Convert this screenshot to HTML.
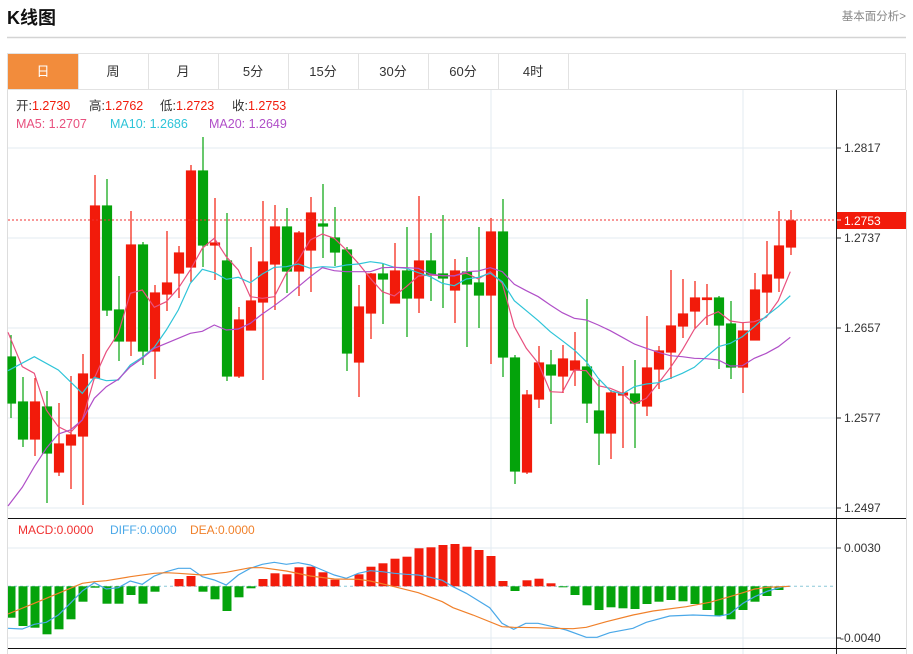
<!DOCTYPE html>
<html><head><meta charset="utf-8"><style>
body{margin:0;background:#fff;width:913px;height:654px;overflow:hidden;font-family:"Liberation Sans","Noto Sans CJK SC",sans-serif}
svg{position:absolute;left:0;top:0}
</style></head><body>
<svg width="913" height="654" viewBox="0 0 913 654" xmlns="http://www.w3.org/2000/svg" font-family="Liberation Sans, Noto Sans CJK SC, sans-serif">
<text x="7" y="24" font-size="18" font-weight="bold" fill="#111">K线图</text>
<text x="906" y="20" font-size="11.5" fill="#888" text-anchor="end">基本面分析&gt;</text>
<line x1="7" y1="37.5" x2="906" y2="37.5" stroke="#d4d4d4" stroke-width="1.5"/>
<rect x="7.5" y="53.5" width="898" height="36" fill="#fff" stroke="#e2e2e2"/>
<rect x="8" y="54" width="70" height="35" fill="#f28c3c"/>
<g stroke="#e2e2e2"><line x1="78.5" y1="54" x2="78.5" y2="89"/><line x1="148.5" y1="54" x2="148.5" y2="89"/><line x1="218.5" y1="54" x2="218.5" y2="89"/><line x1="288.5" y1="54" x2="288.5" y2="89"/><line x1="358.5" y1="54" x2="358.5" y2="89"/><line x1="428.5" y1="54" x2="428.5" y2="89"/><line x1="498.5" y1="54" x2="498.5" y2="89"/><line x1="568.5" y1="54" x2="568.5" y2="89"/></g>
<g font-size="13" text-anchor="middle" fill="#333"><text x="43" y="76" fill="#fff">日</text><text x="113" y="76">周</text><text x="183" y="76">月</text><text x="253" y="76">5分</text><text x="323" y="76">15分</text><text x="393" y="76">30分</text><text x="463" y="76">60分</text><text x="533" y="76">4时</text></g>
<line x1="7.5" y1="90" x2="7.5" y2="654" stroke="#ddd"/>
<line x1="906.5" y1="90" x2="906.5" y2="654" stroke="#ddd"/>
<g stroke="#e3ebf2"><line x1="8" y1="148" x2="836" y2="148"/><line x1="8" y1="238" x2="836" y2="238"/><line x1="8" y1="328" x2="836" y2="328"/><line x1="8" y1="418" x2="836" y2="418"/><line x1="8" y1="508" x2="836" y2="508"/><line x1="8" y1="548" x2="836" y2="548"/><line x1="8" y1="638" x2="836" y2="638"/><line x1="491" y1="90" x2="491" y2="654"/><line x1="743" y1="90" x2="743" y2="654"/></g>
<line x1="836.5" y1="90" x2="836.5" y2="654" stroke="#222"/>
<line x1="8" y1="518.5" x2="906" y2="518.5" stroke="#111"/>
<line x1="8" y1="648.5" x2="906" y2="648.5" stroke="#111"/>
<g stroke="#222"><line x1="836" y1="148" x2="841" y2="148"/><line x1="836" y1="238" x2="841" y2="238"/><line x1="836" y1="328" x2="841" y2="328"/><line x1="836" y1="418" x2="841" y2="418"/><line x1="836" y1="508" x2="841" y2="508"/><line x1="836" y1="548" x2="841" y2="548"/><line x1="836" y1="638" x2="841" y2="638"/></g>
<g font-size="12" fill="#333"><text x="844" y="152">1.2817</text><text x="844" y="242">1.2737</text><text x="844" y="332">1.2657</text><text x="844" y="422">1.2577</text><text x="844" y="512">1.2497</text><text x="844" y="552">0.0030</text><text x="840" y="642">-0.0040</text></g>
<g font-size="12.5" fill="#333">
<text x="16" y="110">开:<tspan fill="#f21b0b">1.2730</tspan></text>
<text x="89" y="110">高:<tspan fill="#f21b0b">1.2762</tspan></text>
<text x="160" y="110">低:<tspan fill="#f21b0b">1.2723</tspan></text>
<text x="232" y="110">收:<tspan fill="#f21b0b">1.2753</tspan></text>
<text x="16" y="128" fill="#e8507e">MA5: 1.2707</text><text x="110" y="128" fill="#2ec4d8">MA10: 1.2686</text><text x="209" y="128" fill="#b04fc8">MA20: 1.2649</text></g>
<g font-size="12"><text x="18" y="534" fill="#f03030">MACD:0.0000</text><text x="110" y="534" fill="#4aa8e8">DIFF:0.0000</text><text x="190" y="534" fill="#f0802a">DEA:0.0000</text></g>
<g stroke-width="1.2">
<g stroke="#04a30b" fill="#04a30b">
<line x1="11" y1="335" x2="11" y2="418"/><rect x="8" y="357" width="7.5" height="46"/>
<line x1="23" y1="377" x2="23" y2="447"/><rect x="18.5" y="402" width="9" height="37"/>
<line x1="47" y1="391" x2="47" y2="503"/><rect x="42.5" y="407" width="9" height="46"/>
<line x1="107" y1="179" x2="107" y2="316"/><rect x="102.5" y="206" width="9" height="104"/>
<line x1="119" y1="276" x2="119" y2="361"/><rect x="114.5" y="310" width="9" height="31"/>
<line x1="143" y1="242" x2="143" y2="365"/><rect x="138.5" y="245" width="9" height="106"/>
<line x1="203" y1="137" x2="203" y2="267"/><rect x="198.5" y="171" width="9" height="74"/>
<line x1="227" y1="213" x2="227" y2="381"/><rect x="222.5" y="261" width="9" height="115"/>
<line x1="287" y1="208" x2="287" y2="293"/><rect x="282.5" y="227" width="9" height="44"/>
<line x1="323" y1="184" x2="323" y2="258"/><rect x="318.5" y="224" width="9" height="2"/>
<line x1="335" y1="207" x2="335" y2="266"/><rect x="330.5" y="238" width="9" height="14"/>
<line x1="347" y1="247" x2="347" y2="371"/><rect x="342.5" y="250" width="9" height="103"/>
<line x1="383" y1="264" x2="383" y2="324"/><rect x="378.5" y="274" width="9" height="5"/>
<line x1="407" y1="227" x2="407" y2="337"/><rect x="402.5" y="271" width="9" height="27"/>
<line x1="431" y1="233" x2="431" y2="301"/><rect x="426.5" y="261" width="9" height="13"/>
<line x1="443" y1="215" x2="443" y2="308"/><rect x="438.5" y="274" width="9" height="4"/>
<line x1="467" y1="257" x2="467" y2="347"/><rect x="462.5" y="272" width="9" height="12"/>
<line x1="479" y1="227" x2="479" y2="328"/><rect x="474.5" y="283" width="9" height="12"/>
<line x1="503" y1="199" x2="503" y2="377"/><rect x="498.5" y="232" width="9" height="125"/>
<line x1="515" y1="355" x2="515" y2="484"/><rect x="510.5" y="358" width="9" height="113"/>
<line x1="551" y1="350" x2="551" y2="424"/><rect x="546.5" y="365" width="9" height="10"/>
<line x1="587" y1="299" x2="587" y2="423"/><rect x="582.5" y="367" width="9" height="36"/>
<line x1="599" y1="380" x2="599" y2="465"/><rect x="594.5" y="411" width="9" height="22"/>
<line x1="635" y1="360" x2="635" y2="448"/><rect x="630.5" y="394" width="9" height="9"/>
<line x1="719" y1="296" x2="719" y2="369"/><rect x="714.5" y="298" width="9" height="27"/>
<line x1="731" y1="301" x2="731" y2="379"/><rect x="726.5" y="324" width="9" height="43"/>
</g>
<g stroke="#f21b0b" fill="#f21b0b">
<line x1="35" y1="378" x2="35" y2="456"/><rect x="30.5" y="402" width="9" height="37"/>
<line x1="59" y1="403" x2="59" y2="476"/><rect x="54.5" y="444" width="9" height="28"/>
<line x1="71" y1="376" x2="71" y2="489"/><rect x="66.5" y="435" width="9" height="10"/>
<line x1="83" y1="354" x2="83" y2="505"/><rect x="78.5" y="374" width="9" height="62"/>
<line x1="95" y1="175" x2="95" y2="378"/><rect x="90.5" y="206" width="9" height="172"/>
<line x1="131" y1="211" x2="131" y2="356"/><rect x="126.5" y="245" width="9" height="96"/>
<line x1="155" y1="285" x2="155" y2="379"/><rect x="150.5" y="293" width="9" height="58"/>
<line x1="167" y1="231" x2="167" y2="311"/><rect x="162.5" y="283" width="9" height="11"/>
<line x1="179" y1="246" x2="179" y2="298"/><rect x="174.5" y="253" width="9" height="20"/>
<line x1="191" y1="165" x2="191" y2="282"/><rect x="186.5" y="171" width="9" height="96"/>
<line x1="215" y1="198" x2="215" y2="280"/><rect x="210.5" y="243" width="9" height="2"/>
<line x1="239" y1="307" x2="239" y2="378"/><rect x="234.5" y="320" width="9" height="56"/>
<line x1="251" y1="247" x2="251" y2="330"/><rect x="246.5" y="301" width="9" height="29"/>
<line x1="263" y1="201" x2="263" y2="380"/><rect x="258.5" y="262" width="9" height="40"/>
<line x1="275" y1="205" x2="275" y2="310"/><rect x="270.5" y="227" width="9" height="37"/>
<line x1="299" y1="231" x2="299" y2="296"/><rect x="294.5" y="233" width="9" height="38"/>
<line x1="311" y1="197" x2="311" y2="292"/><rect x="306.5" y="213" width="9" height="37"/>
<line x1="359" y1="285" x2="359" y2="397"/><rect x="354.5" y="307" width="9" height="55"/>
<line x1="371" y1="273" x2="371" y2="339"/><rect x="366.5" y="274" width="9" height="39"/>
<line x1="395" y1="243" x2="395" y2="303"/><rect x="390.5" y="271" width="9" height="32"/>
<line x1="419" y1="196" x2="419" y2="313"/><rect x="414.5" y="261" width="9" height="37"/>
<line x1="455" y1="259" x2="455" y2="323"/><rect x="450.5" y="271" width="9" height="19"/>
<line x1="491" y1="218" x2="491" y2="364"/><rect x="486.5" y="232" width="9" height="63"/>
<line x1="527" y1="390" x2="527" y2="474"/><rect x="522.5" y="395" width="9" height="77"/>
<line x1="539" y1="346" x2="539" y2="408"/><rect x="534.5" y="363" width="9" height="36"/>
<line x1="563" y1="345" x2="563" y2="393"/><rect x="558.5" y="359" width="9" height="17"/>
<line x1="575" y1="332" x2="575" y2="386"/><rect x="570.5" y="361" width="9" height="9"/>
<line x1="611" y1="390" x2="611" y2="459"/><rect x="606.5" y="393" width="9" height="40"/>
<line x1="623" y1="366" x2="623" y2="448"/><rect x="618.5" y="393" width="9" height="2"/>
<line x1="647" y1="316" x2="647" y2="416"/><rect x="642.5" y="368" width="9" height="38"/>
<line x1="659" y1="346" x2="659" y2="389"/><rect x="654.5" y="351" width="9" height="18"/>
<line x1="671" y1="270" x2="671" y2="379"/><rect x="666.5" y="326" width="9" height="26"/>
<line x1="683" y1="279" x2="683" y2="338"/><rect x="678.5" y="314" width="9" height="12"/>
<line x1="695" y1="281" x2="695" y2="329"/><rect x="690.5" y="298" width="9" height="13"/>
<line x1="707" y1="284" x2="707" y2="325"/><rect x="702.5" y="298" width="9" height="1.5"/>
<line x1="743" y1="322" x2="743" y2="393"/><rect x="738.5" y="331" width="9" height="36"/>
<line x1="755" y1="273" x2="755" y2="340"/><rect x="750.5" y="290" width="9" height="50"/>
<line x1="767" y1="241" x2="767" y2="313"/><rect x="762.5" y="275" width="9" height="17"/>
<line x1="779" y1="211" x2="779" y2="292"/><rect x="774.5" y="246" width="9" height="32"/>
<line x1="791" y1="210" x2="791" y2="255"/><rect x="786.5" y="221" width="9" height="26"/>
</g></g>
<polyline fill="none" stroke="#e8507e" stroke-width="1.2" points="8,332.3 22.3,366.7 34.3,373.3 46.3,410 58.3,426.7 70.3,432.7 82.3,420 94.3,378.3 106.3,351.7 118.3,333.3 130.3,293.3 142.3,290 154.3,307.3 166.3,301.7 178.3,288.3 190.3,270 202.3,248.3 214.3,238.3 226.3,256.7 238.3,270 250.3,296.7 262.3,298.3 274.3,296.7 286.3,273.3 298.3,260 310.3,240 322.3,234 334.3,238.3 346.3,250 358.3,263.3 370.3,278.3 382.3,291.7 394.3,296 406.3,286.7 418.3,276 430.3,275 442.3,275.7 454.3,275.7 466.3,273.3 478.3,279 490.3,271.7 502.3,283.3 514.3,326.7 526.3,348.3 538.3,363.3 550.3,391.7 562.3,392.3 574.3,370 586.3,370.7 598.3,385.7 610.3,388.3 622.3,393.3 634.3,404 646.3,398.3 658.3,383.3 670.3,367.7 682.3,350 694.3,329.3 706.3,316.7 718.3,311.7 730.3,321 742.3,322.7 754.3,321.7 766.3,317.3 778.3,300.7 790.3,271.7"/>
<polyline fill="none" stroke="#2ec4d8" stroke-width="1.2" points="8,370.7 34.3,356.7 58.3,370 82.3,393.3 94.3,377.3 106.3,380.7 118.3,380 130.3,365 142.3,357.3 154.3,347.3 166.3,330 178.3,310 190.3,283.3 202.3,269.3 214.3,272.7 226.3,279.3 238.3,277.3 250.3,282.7 262.3,274 274.3,267.3 286.3,266.7 298.3,264 310.3,268.3 322.3,266.7 334.3,267.3 346.3,265 358.3,264 370.3,261.7 382.3,263.3 394.3,267.3 406.3,268.3 418.3,272.7 430.3,276.7 442.3,283.3 454.3,285.7 466.3,279 478.3,277.3 490.3,273.3 502.3,281.7 514.3,300.7 526.3,310.7 538.3,320.7 550.3,331.7 562.3,340.7 574.3,350 586.3,361.7 598.3,378.3 610.3,390.7 622.3,394 634.3,386.7 646.3,384 658.3,382.7 670.3,378.3 682.3,373.3 694.3,367.3 706.3,356.7 718.3,346.7 730.3,343.3 742.3,336.7 754.3,326.7 766.3,316 778.3,306.7 790.3,295.7"/>
<polyline fill="none" stroke="#b04fc8" stroke-width="1.2" points="8,506 22.3,487.3 34.3,466.7 46.3,448.3 58.3,434 70.3,430 82.3,420 94.3,398.3 106.3,386.7 118.3,379.3 130.3,366.7 142.3,358.3 154.3,348.3 166.3,343.3 178.3,338.3 190.3,333.3 202.3,331.3 214.3,325 226.3,330 238.3,329 250.3,323.3 262.3,314 274.3,305.7 286.3,296.7 298.3,286.7 310.3,276.7 322.3,267.7 334.3,270.7 346.3,271.7 358.3,271.7 370.3,271.7 382.3,267.7 394.3,267.3 406.3,267.7 418.3,268.3 430.3,274 442.3,275.7 454.3,276 466.3,271.7 478.3,271 490.3,267.7 502.3,271.7 514.3,284.3 526.3,290.7 538.3,296.7 550.3,305 562.3,312.7 574.3,318.3 586.3,320 598.3,325 610.3,330.7 622.3,337.3 634.3,344 646.3,348.3 658.3,352.3 670.3,355.7 682.3,356.7 694.3,358.3 706.3,358.7 718.3,360 730.3,366 742.3,365.7 754.3,358.3 766.3,353.3 778.3,346.7 790.3,337.3"/>
<line x1="8" y1="220" x2="836" y2="220" stroke="#f03030" stroke-dasharray="2,2"/>
<rect x="837" y="212" width="69" height="17" fill="#f21b0b"/>
<text x="844" y="225" font-size="12" fill="#fff">1.2753</text>
<line x1="837" y1="220" x2="841" y2="220" stroke="#fff"/>
<line x1="8" y1="586.3" x2="836" y2="586.3" stroke="#8cc8d8" stroke-dasharray="3,3"/>
<g fill="#04a30b">
<rect x="8" y="586.3" width="7.5" height="31.4"/><rect x="18.5" y="586.3" width="9" height="39.7"/><rect x="30.5" y="586.3" width="9" height="41.4"/><rect x="42.5" y="586.3" width="9" height="48"/><rect x="54.5" y="586.3" width="9" height="43"/><rect x="66.5" y="586.3" width="9" height="33"/><rect x="78.5" y="586.3" width="9" height="15.4"/><rect x="90.5" y="586.3" width="9" height="1.4"/><rect x="102.5" y="586.3" width="9" height="17.4"/><rect x="114.5" y="586.3" width="9" height="17.4"/><rect x="126.5" y="586.3" width="9" height="8.7"/><rect x="138.5" y="586.3" width="9" height="17.4"/><rect x="150.5" y="586.3" width="9" height="5.4"/>
<rect x="198.5" y="586.3" width="9" height="5.4"/><rect x="210.5" y="586.3" width="9" height="13"/><rect x="222.5" y="586.3" width="9" height="24.7"/><rect x="234.5" y="586.3" width="9" height="11"/><rect x="246.5" y="586.3" width="9" height="2"/>
<rect x="510.5" y="586.3" width="9" height="4.7"/><rect x="558.5" y="586.3" width="9" height="1"/><rect x="570.5" y="586.3" width="9" height="8.7"/><rect x="582.5" y="586.3" width="9" height="19"/><rect x="594.5" y="586.3" width="9" height="23.7"/><rect x="606.5" y="586.3" width="9" height="21"/><rect x="618.5" y="586.3" width="9" height="22"/><rect x="630.5" y="586.3" width="9" height="22.7"/><rect x="642.5" y="586.3" width="9" height="17.7"/><rect x="654.5" y="586.3" width="9" height="15.4"/><rect x="666.5" y="586.3" width="9" height="13.7"/><rect x="678.5" y="586.3" width="9" height="15"/><rect x="690.5" y="586.3" width="9" height="17.7"/><rect x="702.5" y="586.3" width="9" height="23.7"/><rect x="714.5" y="586.3" width="9" height="29.7"/><rect x="726.5" y="586.3" width="9" height="33"/><rect x="738.5" y="586.3" width="9" height="23.7"/><rect x="750.5" y="586.3" width="9" height="15.4"/><rect x="762.5" y="586.3" width="9" height="9.7"/><rect x="774.5" y="586.3" width="9" height="3.7"/>
</g>
<g fill="#f21b0b">
<rect x="174.5" y="579" width="9" height="7.3"/><rect x="186.5" y="576" width="9" height="10.3"/>
<rect x="258.5" y="579" width="9" height="7.3"/><rect x="270.5" y="573.3" width="9" height="13"/><rect x="282.5" y="574.3" width="9" height="12"/><rect x="294.5" y="567.3" width="9" height="19"/><rect x="306.5" y="566.7" width="9" height="19.6"/><rect x="318.5" y="572.3" width="9" height="14"/><rect x="330.5" y="579.7" width="9" height="6.6"/>
<rect x="354.5" y="574.3" width="9" height="12"/><rect x="366.5" y="566.7" width="9" height="19.6"/><rect x="378.5" y="563.3" width="9" height="23"/><rect x="390.5" y="558.7" width="9" height="27.6"/><rect x="402.5" y="556.7" width="9" height="29.6"/><rect x="414.5" y="548.3" width="9" height="38"/><rect x="426.5" y="547.3" width="9" height="39"/><rect x="438.5" y="545" width="9" height="41.3"/><rect x="450.5" y="544" width="9" height="42.3"/><rect x="462.5" y="546.7" width="9" height="39.6"/><rect x="474.5" y="550" width="9" height="36.3"/><rect x="486.5" y="556" width="9" height="30.3"/><rect x="498.5" y="581" width="9" height="5.3"/>
<rect x="522.5" y="580.3" width="9" height="6"/><rect x="534.5" y="578.7" width="9" height="7.6"/><rect x="546.5" y="583.3" width="9" height="3"/>
</g>
<polyline fill="none" stroke="#4aa8e8" stroke-width="1.2" points="8,628.3 22.3,629 34.3,624.3 46.3,622.3 58.3,615 70.3,603.3 82.3,591 94.3,582.7 106.3,589 118.3,587.7 130.3,581 142.3,584.3 154.3,576 166.3,571.7 178.3,568.3 190.3,568.3 202.3,576.7 214.3,580 226.3,585 238.3,575 250.3,568.3 262.3,564.3 274.3,562.3 286.3,564.3 298.3,562.7 310.3,565 322.3,570 334.3,575 346.3,578.3 358.3,573.3 370.3,570.7 382.3,571.7 394.3,573.3 406.3,574.3 418.3,575 430.3,577.3 442.3,580.3 453,586.7 466.3,593.3 489.7,607.7 502,623.3 513.7,629.3 525.7,623.3 538,623.3 553,626.7 566.3,630 586.3,637.3 597,637.3 609.7,632.7 633,628.3 646.3,622.3 669.7,616 693,615 719.7,616 729.7,614 743,603.3 754.7,596.7 768,591 783,586.7 789.7,586.3"/>
<polyline fill="none" stroke="#f0802a" stroke-width="1.2" points="8,614 34.3,603.3 58.3,593.3 82.3,583.3 94.3,581.7 106.3,580.7 130.3,576.7 154.3,573.3 166.3,572.7 178.3,573.3 202.3,575 226.3,572.3 250.3,567.7 262.3,567.7 286.3,571 310.3,576 334.3,579 358.3,579.3 370.3,581 394.3,586.7 418.3,592.7 442.3,601.7 453,607.7 473,615 502,626.7 513.7,627.3 536.3,627.7 553,628.3 573,628.7 586.3,627.3 606.3,621.7 633,615 653,611 686.3,606.7 709.7,602.3 729.7,596.7 743,592.7 754.7,589 768,587.3 789.7,586.3"/>
</svg>
</body></html>
